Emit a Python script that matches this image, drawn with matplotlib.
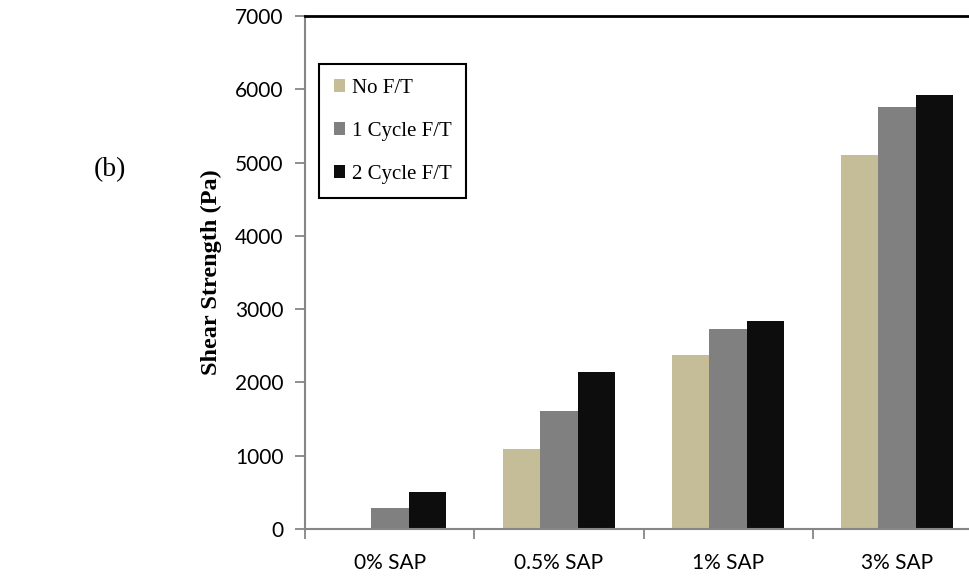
import numpy as np
import matplotlib
matplotlib.use("Agg")
import matplotlib.pyplot as plt
from matplotlib.patches import Patch

# data
categories = ["0% SAP", "0.5% SAP", "1% SAP", "3% SAP"]
no_ft = [0, 1088, 2370, 5107]
cycle1 = [282, 1606, 2733, 5754]
cycle2 = [505, 2142, 2838, 5926]
series_names = ["No F/T", "1 Cycle F/T", "2 Cycle F/T"]
colors = ["#C4BD97", "#808080", "#0D0D0D"]
yticks = [0, 1000, 2000, 3000, 4000, 5000, 6000, 7000]

fig = plt.figure(figsize=(9.7, 5.78), dpi=100)
ax = fig.add_axes([305.5 / 970, 49 / 578, 676 / 970, 513 / 578])

x = np.arange(len(categories))
w = 0.222
for i, vals in enumerate([no_ft, cycle1, cycle2]):
    ax.bar(x + (i - 1) * w, vals, width=w, color=colors[i], linewidth=0)

ax.set_xlim(-0.5, 3.5)
ax.set_ylim(0, 7000)
ax.set_yticks(yticks)
ax.set_yticklabels([str(v) for v in yticks], fontfamily="Lato", fontsize=15)

# category boundaries as ticks, labels at centres
ax.set_xticks(np.arange(-0.5, 4, 1.0))
ax.set_xticklabels([])
ax.set_xticks(x, minor=True)
ax.set_xticklabels(categories, minor=True, fontfamily="Lato", fontsize=15)
ax.tick_params(axis="x", which="minor", length=0, pad=17)
ax.tick_params(axis="x", which="major", length=7, width=1.3, color="#868686")
ax.tick_params(axis="y", length=7, width=1.3, color="#868686", pad=9)

for s in ["left", "bottom"]:
    ax.spines[s].set_color("#868686")
    ax.spines[s].set_linewidth(1.5)
ax.spines["top"].set_color("black")
ax.spines["top"].set_linewidth(2)
ax.spines["right"].set_visible(False)

ax.set_ylabel("Shear Strength (Pa)", fontfamily="Liberation Serif",
              fontweight="bold", fontsize=17.5, labelpad=9)

handles = [Patch(facecolor=c, edgecolor="none") for c in colors]
leg = ax.legend(handles, series_names, loc="upper left",
                bbox_to_anchor=(0.02, 0.906), borderaxespad=0,
                prop={"family": "Liberation Serif", "size": 15},
                handlelength=0.55, handleheight=0.55, handletextpad=0.32,
                labelspacing=1.15, borderpad=0.7, fancybox=False,
                edgecolor="black", framealpha=1)
leg.get_frame().set_linewidth(1.5)

fig.text(110 / 970, 1 - 170 / 578, "(b)", fontfamily="Liberation Serif",
         fontsize=20, ha="center", va="center")

fig.savefig("out.png", dpi=100)
